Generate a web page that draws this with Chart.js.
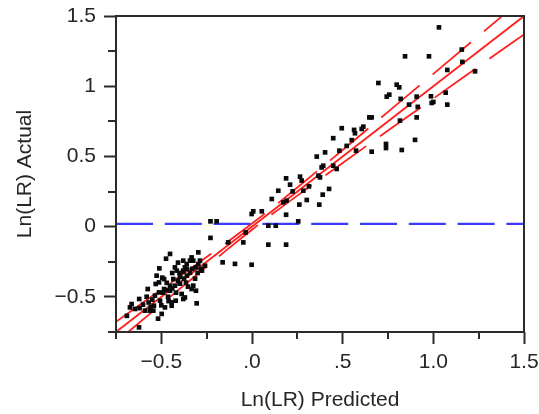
<!DOCTYPE html>
<html>
<head>
<meta charset="utf-8">
<script src="https://cdn.jsdelivr.net/npm/chart.js@4"></script>
<style>
  html, body { margin: 0; padding: 0; background: #ffffff; }
  #wrap { width: 539px; height: 414px; }
</style>
</head>
<body>
<div id="wrap"><canvas id="c" width="539" height="414"></canvas></div>
<script>
// ---- Data ----
const predicted = [
  1.031, 0.844, 0.976, 1.157, 1.160, 1.077, 1.230, 1.068, 0.908, 0.987,
  0.991, 1.000, 1.077, 0.866, 0.914, 0.908, 0.697, 0.798, 0.812, 0.743,
  0.757, 0.820, 0.647, 0.660, 0.816, 0.614, 0.605, 0.563, 0.568, 0.495,
  0.448, 0.550, 0.522, 0.574, 0.482, 0.660, 0.739, 0.739, 0.826, 0.899,
  0.448, 0.467, 0.357, 0.403, 0.384, 0.393, 0.366, 0.375, 0.425, 0.390,
  0.371, 0.188, 0.265, 0.274, 0.210, 0.224, 0.145, 0.283, 0.314, 0.302,
  0.261, 0.109, 0.173, 0.188, 0.054, 0.007, -0.002, 0.255, 0.090, 0.131,
  0.090, 0.188, 0.191, -0.229, -0.195, -0.229, -0.162, -0.094, -0.002, -0.131,
  -0.048, -0.035,
  -0.623, -0.664, -0.673, -0.645, -0.622, -0.581, -0.575, -0.511, -0.452, -0.425,
  -0.415, -0.379, -0.342, -0.333, -0.296, -0.287, -0.305, -0.379, -0.388, -0.443,
  -0.443, -0.498, -0.480, -0.544, -0.563, -0.370, -0.526, -0.495, -0.485, -0.434,
  -0.531, -0.513, -0.485, -0.467, -0.559, -0.541, -0.513, -0.421, -0.324, -0.296,
  -0.283, -0.370, -0.333, -0.324, -0.452, -0.425, -0.408, -0.397, -0.375, -0.359,
  -0.342, -0.364, -0.397, -0.419, -0.452, -0.463, -0.507, -0.535, -0.601, -0.590,
  -0.518, -0.353, -0.314, -0.276, -0.259, -0.408, -0.474, -0.309, -0.690, -0.360,
  -0.379, -0.470, -0.440, -0.400, -0.380, -0.360, -0.330, -0.310, -0.300, -0.440,
  -0.490, -0.550, -0.570, -0.620, -0.500, -0.460
];
const actual = [
  1.419, 1.213, 1.213, 1.261, 1.173, 1.116, 1.106, 0.954, 0.926, 0.928,
  0.881, 0.888, 0.869, 0.869, 0.853, 0.778, 1.023, 1.011, 0.992, 0.926,
  0.940, 0.910, 0.778, 0.778, 0.755, 0.712, 0.696, 0.689, 0.665, 0.701,
  0.630, 0.616, 0.575, 0.541, 0.541, 0.534, 0.589, 0.560, 0.546, 0.618,
  0.434, 0.411, 0.499, 0.529, 0.422, 0.434, 0.363, 0.351, 0.269, 0.228,
  0.157, 0.344, 0.356, 0.328, 0.299, 0.251, 0.256, 0.256, 0.287, 0.190,
  0.157, 0.197, 0.173, 0.085, 0.109, 0.109, 0.090, 0.038, 0.007, 0.007,
  -0.128, -0.128, 0.185, 0.038, 0.038, -0.080, -0.254, -0.265, -0.271, -0.112,
  -0.112, -0.041,
  -0.717, -0.551, -0.575, -0.586, -0.515, -0.499, -0.444, -0.297, -0.194, -0.290,
  -0.313, -0.242, -0.242, -0.219, -0.183, -0.242, -0.546, -0.515, -0.479, -0.563,
  -0.539, -0.621, -0.575, -0.598, -0.598, -0.290, -0.349, -0.363, -0.373, -0.373,
  -0.408, -0.397, -0.444, -0.451, -0.575, -0.563, -0.468, -0.527, -0.242, -0.266,
  -0.301, -0.504, -0.444, -0.420, -0.456, -0.420, -0.385, -0.406, -0.370, -0.349,
  -0.328, -0.399, -0.356, -0.470, -0.420, -0.499, -0.527, -0.491, -0.555, -0.598,
  -0.655, -0.427, -0.370, -0.313, -0.278, -0.256, -0.228, -0.456, -0.635, -0.266,
  -0.313, -0.400, -0.330, -0.330, -0.320, -0.300, -0.300, -0.290, -0.330, -0.440,
  -0.470, -0.520, -0.540, -0.580, -0.560, -0.530
];
// line of fit (actual vs predicted)
const fitX = [-0.75, 1.5];
const fitY = [-0.75, 1.5];
// confidence curves
const bandX  = [-0.75, -0.5, -0.25, -0.125, 0, 0.125, 0.25, 0.5, 0.75, 1.0, 1.25, 1.5];
const upperY = [-0.677, -0.448, -0.216, -0.099, 0.022, 0.148, 0.279, 0.546, 0.817, 1.088, 1.359, 1.631];
const lowerY = [-0.823, -0.552, -0.284, -0.151, -0.022, 0.102, 0.221, 0.454, 0.684, 0.912, 1.141, 1.369];
// mean of actual (blue dashed reference)
const meanX = [-0.75, 1.5];
const meanY = [0.02, 0.02];
// tick labels
const xTickValues = [-0.5, 0, 0.5, 1.0, 1.5];
const xTickLabels = ['\u22120.5', '.0', '.5', '1.0', '1.5'];
const yTickValues = [-0.5, 0, 0.5, 1, 1.5];
const yTickLabels = ['\u22120.5', '0', '0.5', '1', '1.5'];
const xTitle = 'Ln(LR) Predicted';
const yTitle = 'Ln(LR) Actual';

// ---- helpers ----
const pts = (xs, ys) => xs.map((x, i) => ({ x: x, y: ys[i] }));
const findIdx = (vals, v) => vals.findIndex(t => Math.abs(t - v) < 1e-6);
const AXIS = '#2b2b2b';
const TXT = '#262626';
const FONT = "'Liberation Sans', Arial, Helvetica, sans-serif";

const frame = {
  id: 'frame',
  afterDraw(chart) {
    const { ctx, chartArea: a, scales } = chart;
    ctx.save();
    ctx.strokeStyle = AXIS;
    ctx.lineWidth = 2;
    ctx.strokeRect(a.left, a.top, a.right - a.left, a.bottom - a.top);
    ctx.beginPath();
    scales.x.ticks.forEach(t => {
      if (findIdx(xTickValues, t.value) < 0) {
        const px = Math.round(scales.x.getPixelForValue(t.value));
        ctx.moveTo(px, a.bottom);
        ctx.lineTo(px, a.bottom + 7);
      }
    });
    scales.y.ticks.forEach(t => {
      if (findIdx(yTickValues, t.value) < 0) {
        const py = Math.round(scales.y.getPixelForValue(t.value));
        ctx.moveTo(a.left, py);
        ctx.lineTo(a.left - 8, py);
      }
    });
    ctx.stroke();
    ctx.restore();
  }
};

Chart.defaults.font.family = FONT;
Chart.defaults.color = TXT;

new Chart(document.getElementById('c'), {
  type: 'scatter',
  data: {
    datasets: [
      {
        label: 'observations',
        data: pts(predicted, actual),
        pointStyle: 'rect',
        pointRadius: 3.3,
        pointBorderWidth: 0,
        backgroundColor: '#0a0a0a',
        borderColor: '#0a0a0a',
        order: 0
      },
      {
        label: 'fit',
        type: 'line',
        data: pts(fitX, fitY),
        borderColor: '#ff2020',
        borderWidth: 1.8,
        pointRadius: 0,
        fill: false,
        order: 1
      },
      {
        label: 'upper',
        type: 'line',
        data: pts(bandX, upperY),
        borderColor: '#ff2020',
        borderWidth: 1.8,
        borderDash: [50, 17],
        cubicInterpolationMode: 'monotone',
        pointRadius: 0,
        fill: false,
        order: 2
      },
      {
        label: 'lower',
        type: 'line',
        data: pts(bandX, lowerY),
        borderColor: '#ff2020',
        borderWidth: 1.8,
        borderDash: [50, 17],
        cubicInterpolationMode: 'monotone',
        pointRadius: 0,
        fill: false,
        order: 3
      },
      {
        label: 'mean',
        type: 'line',
        data: pts(meanX, meanY),
        borderColor: '#3b3bff',
        borderWidth: 2.2,
        borderDash: [37, 11.8],
        pointRadius: 0,
        fill: false,
        order: 4
      }
    ]
  },
  options: {
    responsive: false,
    animation: false,
    events: [],
    layout: { padding: { top: 16, right: 15, left: 0, bottom: 0 } },
    plugins: { legend: { display: false }, tooltip: { enabled: false } },
    scales: {
      x: {
        type: 'linear',
        min: -0.75,
        max: 1.5,
        afterFit: s => { s.height = 82; s.paddingLeft = 0; s.paddingRight = 0; },
        border: { display: false },
        grid: {
          drawOnChartArea: false,
          tickLength: 12,
          tickWidth: 2,
          tickColor: c => (c.tick && findIdx(xTickValues, c.tick.value) >= 0) ? AXIS : 'rgba(0,0,0,0)'
        },
        ticks: {
          stepSize: 0.25,
          autoSkip: false,
          maxRotation: 0,
          padding: 6,
          color: TXT,
          font: { size: 21 },
          callback: v => { const i = findIdx(xTickValues, v); return i >= 0 ? xTickLabels[i] : ''; }
        },
        title: {
          display: true,
          text: xTitle,
          color: TXT,
          font: { size: 21 },
          padding: { top: 0, bottom: 1 }
        }
      },
      y: {
        type: 'linear',
        min: -0.75,
        max: 1.5,
        afterFit: s => { s.width = 116; s.paddingTop = 0; s.paddingBottom = 0; },
        border: { display: false },
        grid: {
          drawOnChartArea: false,
          tickLength: 12,
          tickWidth: 2,
          tickColor: c => (c.tick && findIdx(yTickValues, c.tick.value) >= 0) ? AXIS : 'rgba(0,0,0,0)'
        },
        ticks: {
          stepSize: 0.25,
          autoSkip: false,
          padding: 8,
          color: TXT,
          font: { size: 21 },
          callback: v => { const i = findIdx(yTickValues, v); return i >= 0 ? yTickLabels[i] : ''; }
        },
        title: {
          display: true,
          text: yTitle,
          color: TXT,
          font: { size: 21 },
          padding: { top: 13, bottom: 0 }
        }
      }
    }
  },
  plugins: [frame]
});
</script>
</body>
</html>
